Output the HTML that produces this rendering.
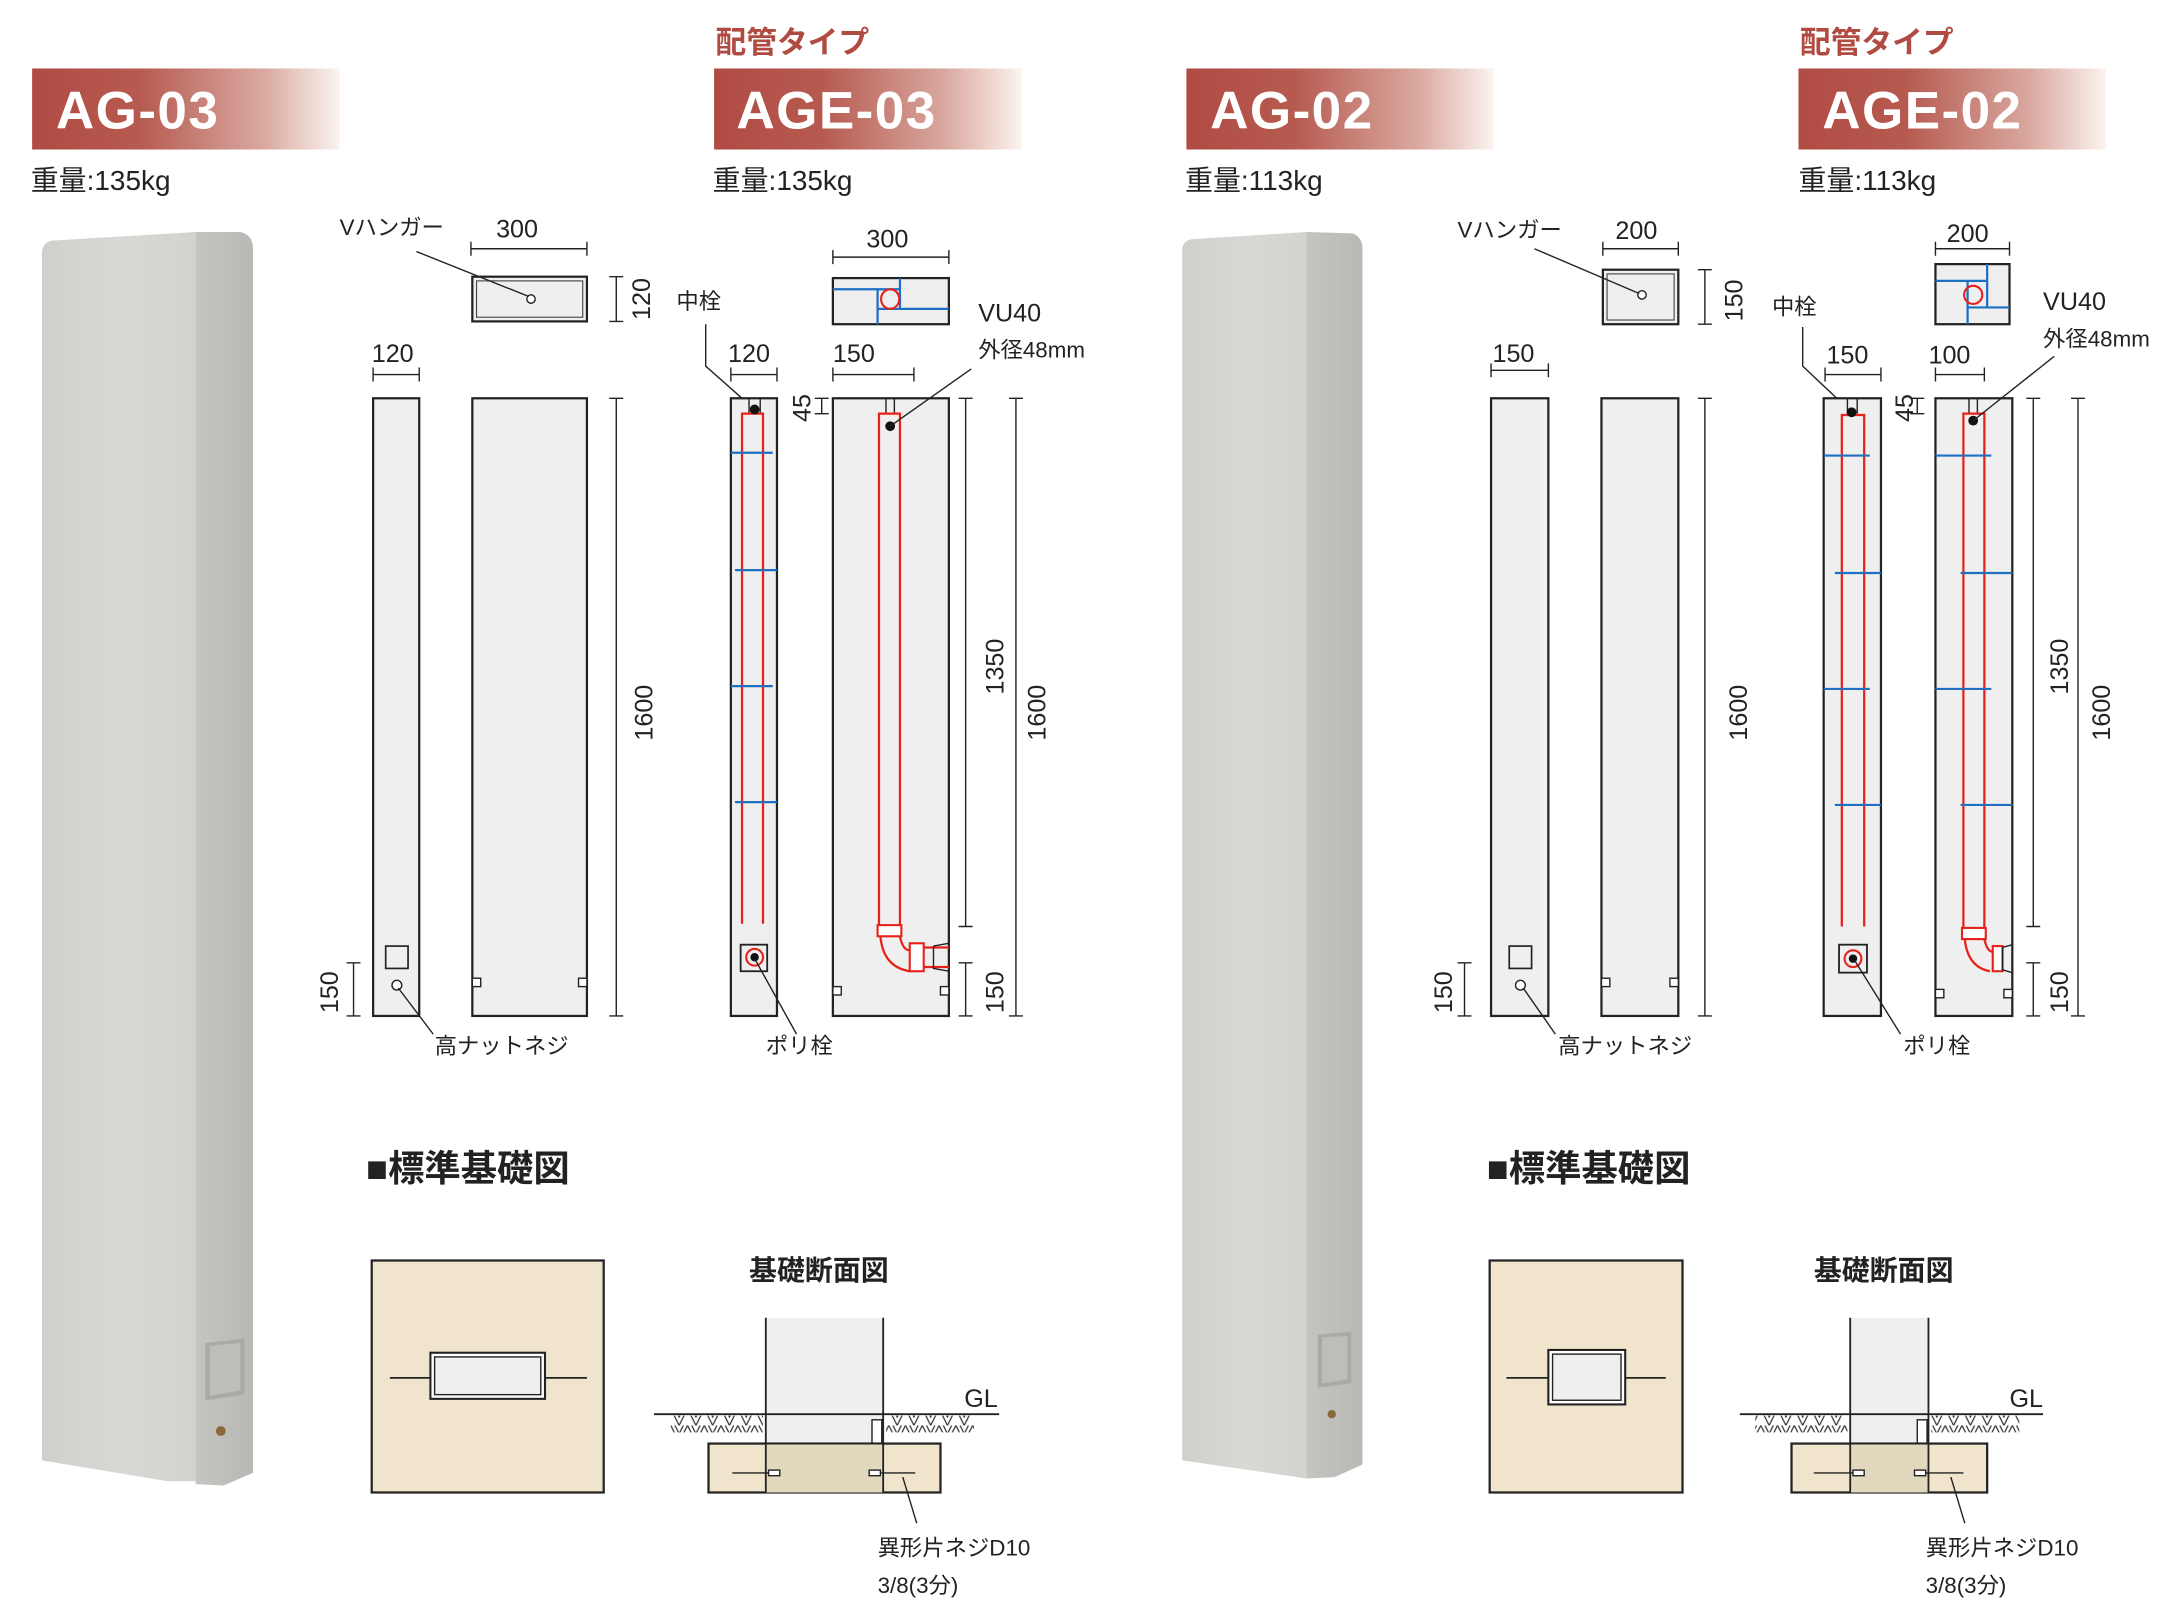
<!DOCTYPE html>
<html><head><meta charset="utf-8"><style>
html,body{margin:0;padding:0;background:#fff;}
svg{display:block;}
text{font-family:"Liberation Sans","Noto Sans CJK JP",sans-serif;fill:#222;}
.l{stroke:#222;stroke-width:1.3;fill:none}
.t{stroke:#222;stroke-width:1;fill:none}
.b{stroke:#1f6fc2;stroke-width:1.6}
.r{stroke:#e8201a;stroke-width:1.6;fill:none}
.g{fill:#efefef;stroke:#222;stroke-width:1.6}
.d{font-size:18px}
.j{font-size:16px}
</style></head><body>
<svg width="2180" height="1623" viewBox="0 0 1560 1161.4" preserveAspectRatio="none" xmlns="http://www.w3.org/2000/svg">
<defs>
<linearGradient id="ban" x1="0" x2="1" y1="0" y2="0">
<stop offset="0" stop-color="#b04b42"/><stop offset="0.35" stop-color="#b65a50"/><stop offset="0.75" stop-color="#d9a89f"/><stop offset="1" stop-color="#fbf3ef"/></linearGradient>
<linearGradient id="fr" x1="0" x2="1"><stop offset="0" stop-color="#cfcfcb"/><stop offset="0.5" stop-color="#d8d8d4"/><stop offset="1" stop-color="#d2d2ce"/></linearGradient>
<linearGradient id="sd" x1="0" x2="1"><stop offset="0" stop-color="#c4c4c0"/><stop offset="1" stop-color="#b8b8b4"/></linearGradient>
<pattern id="h" width="12" height="12" patternUnits="userSpaceOnUse"><path d="M0,0 L6,12 L12,0 M3,0 L6,6 L9,0" stroke="#333" stroke-width="0.9" fill="none"/></pattern>
</defs>

<!-- Banners -->
<g>
<rect x="23" y="49" width="220" height="58" fill="url(#ban)"/>
<text x="40" y="92" style="font-size:38px;font-weight:bold;fill:#fff;letter-spacing:1px">AG-03</text>
<rect x="511" y="49" width="220" height="58" fill="url(#ban)"/>
<text x="527" y="92" style="font-size:38px;font-weight:bold;fill:#fff;letter-spacing:1px">AGE-03</text>
<rect x="849" y="49" width="220" height="58" fill="url(#ban)"/>
<text x="866" y="92" style="font-size:38px;font-weight:bold;fill:#fff;letter-spacing:1px">AG-02</text>
<rect x="1287" y="49" width="220" height="58" fill="url(#ban)"/>
<text x="1304" y="92" style="font-size:38px;font-weight:bold;fill:#fff;letter-spacing:1px">AGE-02</text>
<text x="512" y="38" style="font-size:22px;font-weight:bold;fill:#b04b42">配管タイプ</text>
<text x="1288" y="38" style="font-size:22px;font-weight:bold;fill:#b04b42">配管タイプ</text>
<text x="22" y="136" style="font-size:20px">重量:135kg</text>
<text x="510" y="136" style="font-size:20px">重量:135kg</text>
<text x="848" y="136" style="font-size:20px">重量:113kg</text>
<text x="1287" y="136" style="font-size:20px">重量:113kg</text>
</g>

<!-- Photo pillars -->
<g>
<path d="M30,180 Q31,172 40,172 L140,166 L140,1060 L120,1060 L30,1045 Z" fill="url(#fr)"/>
<path d="M140,166 L172,166 Q181,168 181,178 L181,1054 L160,1063 L140,1062 Z" fill="url(#sd)"/>
<path d="M147,961 L175,958 L175,998 L147,1002 Z" fill="#a9a9a5"/>
<path d="M150,963 L172,961 L172,995 L150,999 Z" fill="#bdbdb9"/>
<circle cx="158" cy="1024" r="3.5" fill="#8a6a3a"/>
<path d="M846,178 Q847,171 855,171 L935,166 L935,1058 L846,1045 Z" fill="url(#fr)"/>
<path d="M935,166 L968,167 Q975,170 975,178 L975,1048 L955,1057 L935,1058 Z" fill="url(#sd)"/>
<path d="M943,955 L967,953 L967,990 L943,993 Z" fill="#a9a9a5"/>
<path d="M946,957 L964,956 L964,987 L946,990 Z" fill="#bdbdb9"/>
<circle cx="953" cy="1012" r="3" fill="#8a6a3a"/>
</g>

<!-- AG-03 drawings -->
<g>
<text x="243" y="168" class="j">Vハンガー</text>
<text x="355" y="170" class="d">300</text>
<path class="t" d="M337,178 H420 M337,173 V183 M420,173 V183"/>
<rect x="338" y="198" width="82" height="32" class="g"/><rect x="341" y="201" width="76" height="26" fill="none" stroke="#444" stroke-width="0.8"/>
<circle cx="380" cy="214" r="3" fill="#fff" stroke="#222"/>
<path class="t" d="M298,180 L378,212"/>
<path class="t" d="M441,198 V230 M436,198 H446 M436,230 H446"/>
<text transform="translate(465,229) rotate(-90)" class="d">120</text>
<text x="266" y="259" class="d">120</text>
<path class="t" d="M267,268 H300 M267,263 V273 M300,263 V273"/>
<rect x="267" y="285" width="33" height="442" class="g"/>
<rect x="338" y="285" width="82" height="442" class="g"/>
<rect x="276" y="677" width="16" height="16" fill="none" stroke="#222" stroke-width="1.2"/>
<circle cx="284" cy="705" r="3.5" fill="#fff" stroke="#222"/>
<path class="t" d="M285,707 L310,740"/>
<text x="311" y="754" class="j">高ナットネジ</text>
<rect x="338" y="700" width="6" height="6" fill="#fff" stroke="#222"/><rect x="414" y="700" width="6" height="6" fill="#fff" stroke="#222"/>
<path class="t" d="M441,285 V727 M436,285 H446 M436,727 H446"/>
<text transform="translate(467,530) rotate(-90)" class="d">1600</text>
<path class="t" d="M253,689 V727 M248,689 H258 M248,727 H258"/>
<text transform="translate(242,725) rotate(-90)" class="d">150</text>
</g>

<!-- AGE-03 drawings -->
<g>
<text x="484" y="221" class="j">中栓</text>
<path class="t" d="M505,232 V262 L540,293"/>
<text x="521" y="259" class="d">120</text>
<path class="t" d="M523,268 H556 M523,263 V273 M556,263 V273"/>
<rect x="523" y="285" width="33" height="442" class="g"/>
<path class="t" d="M536,285 V296 M544,285 V296"/>
<path class="r" d="M531,661 V296 H546 V661"/>
<circle cx="540" cy="293" r="3.5" fill="#111"/>
<path class="b" d="M523,324 H553 M526,408 H556 M523,491 H553 M526,574 H556"/>
<rect x="530" y="676" width="19" height="19" fill="none" stroke="#222" stroke-width="1.3"/>
<circle cx="540" cy="685" r="6" fill="none" stroke="#e8201a" stroke-width="1.5"/><circle cx="540" cy="685" r="3" fill="#111"/>
<path class="t" d="M540,686 L570,740"/>
<text x="548" y="754" class="j">ポリ栓</text>
<path class="t" d="M588,285 V296 M583,285 H593 M583,296 H593"/>
<text transform="translate(580,302) rotate(-90)" class="d">45</text>
<text x="596" y="259" class="d">150</text>
<path class="t" d="M596,268 H654 M596,263 V273 M654,263 V273"/>
<text x="620" y="177" class="d">300</text>
<path class="t" d="M596,184 H679 M596,179 V189 M679,179 V189"/>
<rect x="596" y="199" width="83" height="33" class="g"/>
<path class="b" d="M596,207 H644 M644,199 V221 M628,207 V232 M628,221 H679"/>
<ellipse cx="637" cy="214" rx="6.5" ry="7" fill="none" stroke="#e8201a" stroke-width="1.5"/>
<rect x="596" y="285" width="83" height="442" class="g"/>
<path class="t" d="M634,285 V296 M640,285 V296"/>
<path class="r" d="M629,662 V296 H644 V662"/>
<rect x="628" y="662" width="17" height="8" fill="#fff" stroke="#e8201a" stroke-width="1.5"/>
<path class="r" d="M630,670 Q632,692 651,695 M644,670 Q646,680 651,680"/>
<rect x="651" y="675" width="10" height="20" fill="#fff" stroke="#e8201a" stroke-width="1.5"/>
<path class="r" d="M661,678 H679 M661,692 H679"/>
<path class="t" d="M668,677 L679,675 M668,677 V693 L679,695"/>
<rect x="596" y="706" width="6" height="6" fill="#fff" stroke="#222"/><rect x="673" y="706" width="6" height="6" fill="#fff" stroke="#222"/>
<circle cx="637" cy="305" r="3.5" fill="#111"/>
<path class="t" d="M637,305 L695,264"/>
<text x="700" y="230" class="d">VU40</text>
<text x="700" y="256" class="j">外径48mm</text>
<path class="t" d="M691,285 V663 M686,285 H696 M686,663 H696"/>
<text transform="translate(718,497) rotate(-90)" class="d">1350</text>
<path class="t" d="M691,689 V727 M686,689 H696 M686,727 H696"/>
<text transform="translate(718,725) rotate(-90)" class="d">150</text>
<path class="t" d="M727,285 V727 M722,285 H732 M722,727 H732"/>
<text transform="translate(748,530) rotate(-90)" class="d">1600</text>
</g>

<!-- AG-02 drawings -->
<g>
<text x="1043" y="170" class="j">Vハンガー</text>
<text x="1156" y="171" class="d">200</text>
<path class="t" d="M1147,178 H1201 M1147,173 V183 M1201,173 V183"/>
<rect x="1147" y="193" width="54" height="39" class="g"/><rect x="1150" y="196" width="48" height="33" fill="none" stroke="#444" stroke-width="0.8"/>
<circle cx="1175" cy="211" r="3" fill="#fff" stroke="#222"/>
<path class="t" d="M1098,178 L1173,210"/>
<path class="t" d="M1220,193 V232 M1215,193 H1225 M1215,232 H1225"/>
<text transform="translate(1247,230) rotate(-90)" class="d">150</text>
<text x="1068" y="259" class="d">150</text>
<path class="t" d="M1067,265 H1108 M1067,260 V270 M1108,260 V270"/>
<rect x="1067" y="285" width="41" height="442" class="g"/>
<rect x="1146" y="285" width="55" height="442" class="g"/>
<rect x="1080" y="677" width="16" height="16" fill="none" stroke="#222" stroke-width="1.2"/>
<circle cx="1088" cy="705" r="3.5" fill="#fff" stroke="#222"/>
<path class="t" d="M1090,707 L1113,740"/>
<text x="1115" y="754" class="j">高ナットネジ</text>
<rect x="1146" y="700" width="6" height="6" fill="#fff" stroke="#222"/><rect x="1195" y="700" width="6" height="6" fill="#fff" stroke="#222"/>
<path class="t" d="M1220,285 V727 M1215,285 H1225 M1215,727 H1225"/>
<text transform="translate(1250,530) rotate(-90)" class="d">1600</text>
<path class="t" d="M1048,689 V727 M1043,689 H1053 M1043,727 H1053"/>
<text transform="translate(1039,725) rotate(-90)" class="d">150</text>
</g>

<!-- AGE-02 drawings -->
<g>
<text x="1268" y="225" class="j">中栓</text>
<path class="t" d="M1290,234 V262 L1325,295"/>
<text x="1307" y="260" class="d">150</text>
<path class="t" d="M1306,268 H1346 M1306,263 V273 M1346,263 V273"/>
<rect x="1305" y="285" width="41" height="442" class="g"/>
<path class="t" d="M1322,285 V296 M1329,285 V296"/>
<path class="r" d="M1318,663 V297 H1334 V663"/>
<circle cx="1325" cy="295" r="3.5" fill="#111"/>
<path class="b" d="M1305,326 H1338 M1313,410 H1346 M1305,493 H1338 M1313,576 H1346"/>
<rect x="1316" y="676" width="20" height="20" fill="none" stroke="#222" stroke-width="1.3"/>
<circle cx="1326" cy="686" r="6" fill="none" stroke="#e8201a" stroke-width="1.5"/><circle cx="1326" cy="686" r="3" fill="#111"/>
<path class="t" d="M1327,687 L1360,740"/>
<text x="1362" y="754" class="j">ポリ栓</text>
<path class="t" d="M1372,285 V296 M1367,285 H1377 M1367,296 H1377"/>
<text transform="translate(1369,302) rotate(-90)" class="d">45</text>
<text x="1380" y="260" class="d">100</text>
<path class="t" d="M1385,268 H1420 M1385,263 V273 M1420,263 V273"/>
<text x="1393" y="173" class="d">200</text>
<path class="t" d="M1385,178 H1438 M1385,173 V183 M1438,173 V183"/>
<rect x="1385" y="189" width="53" height="43" class="g"/>
<path class="b" d="M1385,201 H1422 M1422,189 V220 M1408,201 V232 M1408,220 H1438"/>
<circle cx="1412" cy="211" r="6.5" fill="none" stroke="#e8201a" stroke-width="1.5"/>
<rect x="1385" y="285" width="55" height="442" class="g"/>
<path class="t" d="M1409,285 V296 M1415,285 V296"/>
<path class="r" d="M1405,664 V296 H1420 V664"/>
<rect x="1404" y="664" width="17" height="8" fill="#fff" stroke="#e8201a" stroke-width="1.5"/>
<path class="r" d="M1406,672 Q1408,692 1424,695 M1420,672 Q1422,681 1426,681"/>
<rect x="1426" y="677" width="7" height="18" fill="#fff" stroke="#e8201a" stroke-width="1.5"/>
<path class="t" d="M1433,678 L1440,676 M1433,678 V694 L1440,696"/>
<path class="b" d="M1385,326 H1425 M1403,410 H1440 M1385,493 H1425 M1403,576 H1440"/>
<rect x="1385" y="708" width="6" height="6" fill="#fff" stroke="#222"/><rect x="1434" y="708" width="6" height="6" fill="#fff" stroke="#222"/>
<circle cx="1412" cy="301" r="3.5" fill="#111"/>
<path class="t" d="M1412,301 L1470,255"/>
<text x="1462" y="222" class="d">VU40</text>
<text x="1462" y="248" class="j">外径48mm</text>
<path class="t" d="M1455,285 V663 M1450,285 H1460 M1450,663 H1460"/>
<text transform="translate(1480,497) rotate(-90)" class="d">1350</text>
<path class="t" d="M1455,689 V727 M1450,689 H1460 M1450,727 H1460"/>
<text transform="translate(1480,725) rotate(-90)" class="d">150</text>
<path class="t" d="M1487,285 V727 M1482,285 H1492 M1482,727 H1492"/>
<text transform="translate(1510,530) rotate(-90)" class="d">1600</text>
</g>

<!-- Foundations AG-03 -->
<g>
<text x="262" y="845" style="font-size:26px;font-weight:bold">■標準基礎図</text>
<rect x="266" y="902" width="166" height="166" fill="#f0e5cc" stroke="#222" stroke-width="1.6"/>
<path class="l" d="M279,986 H308 M390,986 H420"/>
<rect x="308" y="968" width="82" height="33" fill="#fff" stroke="#222" stroke-width="1.5"/>
<rect x="311" y="971" width="76" height="27" fill="#efefef" stroke="#222" stroke-width="1"/>
<text x="536" y="916" style="font-size:20px;font-weight:bold">基礎断面図</text>
<rect x="548" y="943" width="84" height="90" fill="#efefef"/>
<path class="l" d="M548,943 V1068 M632,943 V1068"/>
<rect x="480" y="1013" width="66" height="12" fill="url(#h)"/>
<rect x="634" y="1013" width="63" height="12" fill="url(#h)"/>
<path class="l" d="M468,1012 H715"/>
<text x="690" y="1007" class="d">GL</text>
<rect x="624" y="1016" width="7" height="17" fill="#fff" stroke="#222"/>
<rect x="507" y="1033" width="166" height="35" fill="#f0e5cc" stroke="#222" stroke-width="1.6"/>
<rect x="548" y="1033" width="84" height="35" fill="#e2d8be"/>
<path class="l" d="M507,1033 H673 M548,1033 V1068 M632,1033 V1068"/>
<path class="t" d="M524,1054 H550 M630,1054 H655"/>
<rect x="550" y="1052" width="8" height="4" fill="#fff" stroke="#222"/><rect x="622" y="1052" width="8" height="4" fill="#fff" stroke="#222"/>
<path class="t" d="M646,1057 L656,1090"/>
<text x="628" y="1113" class="j">異形片ネジD10</text>
<text x="628" y="1140" class="j">3/8(3分)</text>
</g>

<!-- Foundations AG-02 -->
<g>
<text x="1064" y="845" style="font-size:26px;font-weight:bold">■標準基礎図</text>
<rect x="1066" y="902" width="138" height="166" fill="#f0e5cc" stroke="#222" stroke-width="1.6"/>
<path class="l" d="M1078,986 H1108 M1163,986 H1192"/>
<rect x="1108" y="966" width="55" height="39" fill="#fff" stroke="#222" stroke-width="1.5"/>
<rect x="1111" y="969" width="49" height="33" fill="#efefef" stroke="#222" stroke-width="1"/>
<text x="1298" y="916" style="font-size:20px;font-weight:bold">基礎断面図</text>
<rect x="1324" y="943" width="56" height="90" fill="#efefef"/>
<path class="l" d="M1324,943 V1068 M1380,943 V1068"/>
<rect x="1256" y="1013" width="66" height="12" fill="url(#h)"/>
<rect x="1382" y="1013" width="63" height="12" fill="url(#h)"/>
<path class="l" d="M1245,1012 H1462"/>
<text x="1438" y="1007" class="d">GL</text>
<rect x="1372" y="1016" width="7" height="17" fill="#fff" stroke="#222"/>
<rect x="1282" y="1033" width="140" height="35" fill="#f0e5cc" stroke="#222" stroke-width="1.6"/>
<rect x="1324" y="1033" width="56" height="35" fill="#e2d8be"/>
<path class="l" d="M1282,1033 H1422 M1324,1033 V1068 M1380,1033 V1068"/>
<path class="t" d="M1298,1054 H1326 M1378,1054 H1405"/>
<rect x="1326" y="1052" width="8" height="4" fill="#fff" stroke="#222"/><rect x="1370" y="1052" width="8" height="4" fill="#fff" stroke="#222"/>
<path class="t" d="M1396,1057 L1406,1090"/>
<text x="1378" y="1113" class="j">異形片ネジD10</text>
<text x="1378" y="1140" class="j">3/8(3分)</text>
</g>
</svg>
</body></html>
